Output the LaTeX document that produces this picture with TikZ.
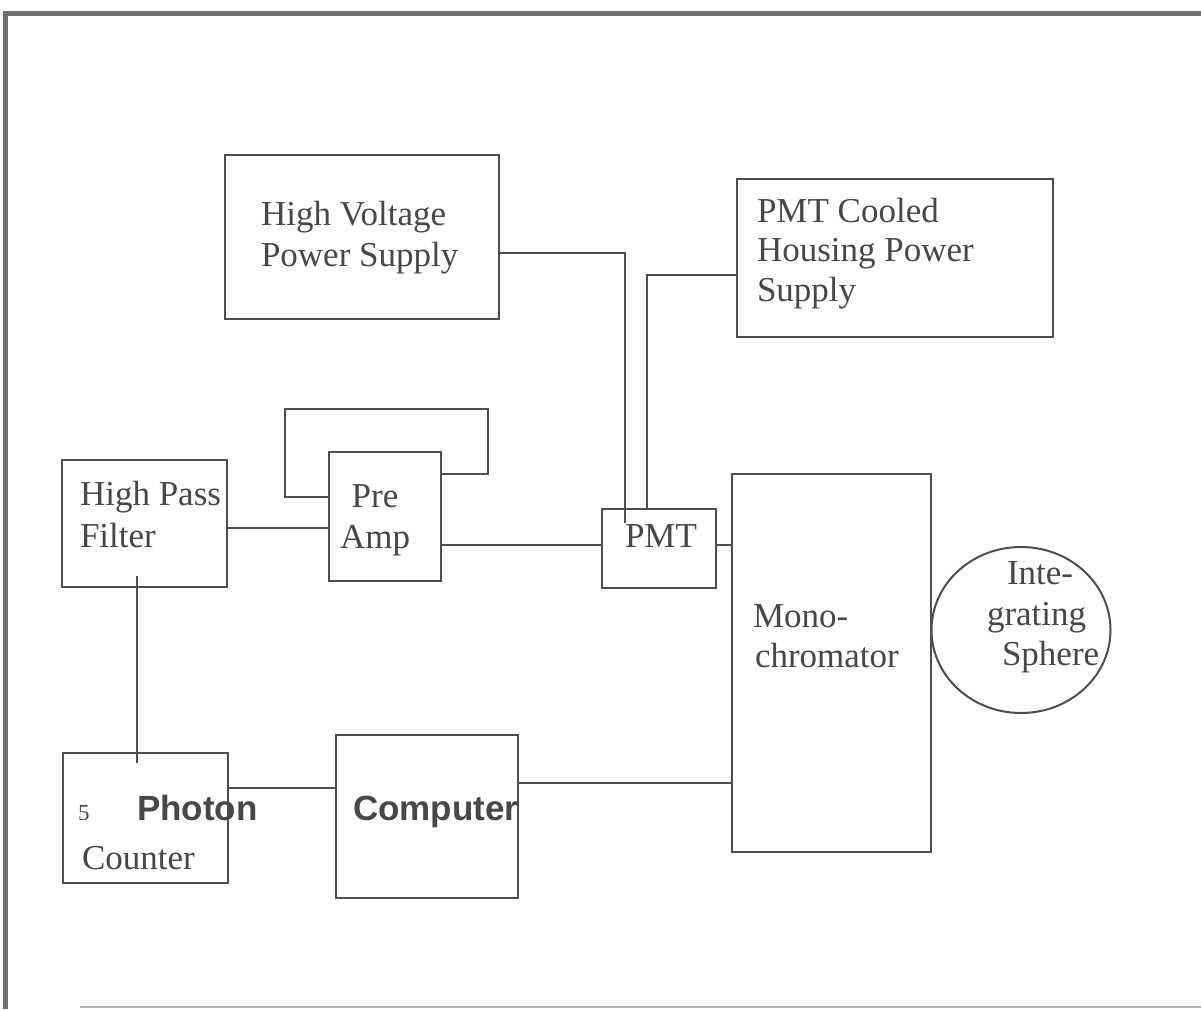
\documentclass[tikz,border=0pt]{standalone}
\usepackage{fontspec}
\setmainfont{Liberation Serif}
\newfontfamily\arialfont{Liberation Sans}
\usetikzlibrary{shapes.geometric}
\definecolor{ink}{HTML}{4E4E4E}
\definecolor{txt}{HTML}{474747}
\definecolor{frame}{HTML}{707070}
\definecolor{framelight}{HTML}{B4B4B4}
\tikzset{
  box/.style={draw=ink, line width=2pt, rectangle, inner sep=0pt, outer sep=0pt},
  ball/.style={draw=ink, line width=2pt, ellipse, inner sep=0pt, outer sep=0pt},
  wire/.style={draw=ink, line width=2pt},
  lbl/.style={anchor=base west, inner sep=0pt, outer sep=0pt, text=txt, font=\fontsize{35}{41}\selectfont},
  lblc/.style={anchor=base, inner sep=0pt, outer sep=0pt, text=txt, font=\fontsize{35}{41}\selectfont},
  blbl/.style={anchor=base west, inner sep=0pt, outer sep=0pt, text=txt, font=\arialfont\bfseries\fontsize{35}{41}\selectfont},
  small/.style={anchor=base west, inner sep=0pt, outer sep=0pt, text=txt, font=\fontsize{23}{28}\selectfont}
}
\begin{document}
\begin{tikzpicture}[x=1pt,y=-1pt]
\useasboundingbox (0,0) rectangle (1201,1009);
\fill[white] (0,0) rectangle (1201,1009);
% frame
\draw[frame, line width=5pt] (5,1009) -- (5,13) -- (1201,13);
\draw[framelight, line width=2pt] (80,1007) -- (1201,1007);

% boxes
\node[box, minimum width=274pt, minimum height=164pt] (hv) at (362,237) {};
\node[box, minimum width=316pt, minimum height=158pt] (cool) at (895,258) {};
\node[box, minimum width=165pt, minimum height=127pt] (hpf) at (144.5,523.5) {};
\node[box, minimum width=112pt, minimum height=129pt] (pre) at (385,516.5) {};
\node[box, minimum width=114pt, minimum height=79pt] (pmt) at (659,548.5) {};
\node[box, minimum width=199pt, minimum height=378pt] (mono) at (831.5,663) {};
\node[ball, minimum width=179pt, minimum height=166pt] (sphere) at (1021,630) {};
\node[box, minimum width=165pt, minimum height=130pt] (pc) at (145.5,818) {};
\node[box, minimum width=182pt, minimum height=163pt] (comp) at (427,816.5) {};

% free-end coordinates
\coordinate (pmtin) at (625,523);
\coordinate (hpfin) at (137,576);
\coordinate (pcin) at (137,763);

% connectors
\draw[wire] (hv.east |- 0,253) -| (pmtin);
\draw[wire] (cool.west |- 0,275) -| (pmt.north -| 647,0);
\draw[wire] (hpf.east |- 0,528) -- (pre.west |- 0,528);
\draw[wire] (pre.east |- 0,545) -- (pmt.west |- 0,545);
\draw[wire] (pre.east |- 0,474) -- (488,474) -- (488,409) -- (285,409) -- (285,497) -- (pre.west |- 0,497);
\draw[wire] (pmt.east |- 0,545) -- (mono.west |- 0,545);
\draw[wire] (hpfin) -- (pcin);
\draw[wire] (pc.east |- 0,788) -- (comp.west |- 0,788);
\draw[wire] (comp.east |- 0,783) -- (mono.west |- 0,783);

% labels
\node[lbl] (hv1) at (261,225) {High Voltage};
\node[lbl] (hv2) at (261,266) {Power Supply};
\node[lbl] (co1) at (757,222) {PMT Cooled};
\node[lbl] (co2) at (757,261) {Housing Power};
\node[lbl] (co3) at (757,301) {Supply};
\node[lbl] (hp1) at (80,505) {High Pass};
\node[lbl] (hp2) at (80,547) {Filter};
\node[lblc] (pr1) at (375,507) {Pre};
\node[lblc] (pr2) at (375,548) {Amp};
\node[lbl] (pm1) at (625,547) {PMT};
\node[lbl] (mo1) at (753,627) {Mono-};
\node[lbl] (mo2) at (755,667) {chromator};
\node[lbl] (sp1) at (1007,584) {Inte-};
\node[lbl] (sp2) at (987,625) {grating};
\node[lbl] (sp3) at (1002,665) {Sphere};
\node[small] (pc0) at (78,820) {5};
\node[blbl] (pc1) at (137,820) {Photon};
\node[lbl] (pc2) at (82,869) {Counter};
\node[blbl] (cp1) at (353,820) {Computer};
\end{tikzpicture}
\end{document}
